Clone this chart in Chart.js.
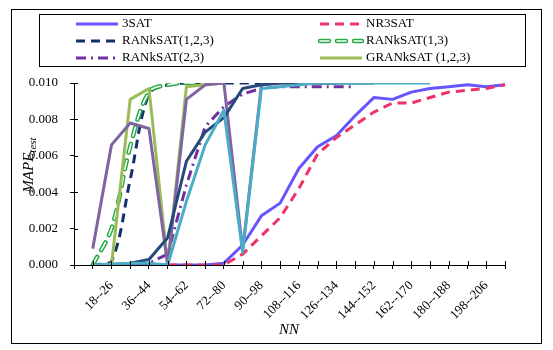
<!DOCTYPE html>
<html>
<head>
<meta charset="utf-8">
<script src="https://cdn.jsdelivr.net/npm/chart.js@4"></script>
<style>
  body { margin: 0; background: #fff; }
  canvas { display: block; }
</style>
</head>
<body>
<canvas id="myChart" width="553" height="350"></canvas>
<script>
// categories: first slot is empty, then 9--17 ... 207--215
var labels = [''];
for (var k = 1; k <= 23; k++) labels.push((9 * k) + '--' + (9 * k + 8));

var sat3     = [null, 0, 0, 0, 0, 0, 0, 0, 0.0001, 0.0011, 0.0027, 0.0034, 0.0053, 0.0065, 0.0071, 0.0082, 0.0092, 0.0091, 0.0095, 0.0097, 0.0098, 0.0099, 0.0098, 0.0099];
var nr3sat   = [null, 0, 0, 0, 0, 0, 0, 0, 0, 0.0006, 0.0016, 0.0026, 0.0042, 0.0061, 0.0070, 0.0077, 0.0084, 0.0089, 0.0089, 0.0092, 0.0095, 0.0096, 0.0097, 0.0099];
var ran123   = [null, 0, 0.0002, 0.0047, 0.0094, 0.0099, 0.0100, 0.0100, 0.0100, 0.0100, 0.0100];
var ran13    = [null, 0, 0.0020, 0.0065, 0.0095, 0.0099, 0.0100, 0.0100];
var ran23    = [null, 0, 0, 0, 0.0001, 0.0006, 0.0044, 0.0076, 0.0087, 0.0094, 0.0097, 0.0098, 0.0098, 0.0098, 0.0098, 0.0098];
var gran123  = [null, 0, 0, 0.0091, 0.0097, 0, 0.0098, 0.0099, 0.0100];
var extraA   = [null, 0.0009, 0.0066, 0.0078, 0.0075, 0, 0.0091, 0.0099, 0.0100, 0.0008, 0.0099, 0.0100, 0.0100, 0.0100, 0.0100];
var extraB   = [null, 0, 0, 0.0001, 0.0003, 0.0015, 0.0057, 0.0073, 0.0081, 0.0097, 0.0099, 0.0100, 0.0100, 0.0100, 0.0100, 0.0100, 0.0100];
var extraC   = [null, 0, 0.00005, 0.0001, 0.0001, 0, 0.0035, 0.0066, 0.0085, 0.0007, 0.0097, 0.0098, 0.0099, 0.0100, 0.0100, 0.0100, 0.0100, 0.0100, 0.0100, 0.0100];

var yTicks = [0, 0.002, 0.004, 0.006, 0.008, 0.010];

function line(label, data, color, dash, extra) {
  var d = {
    label: label, data: data, borderColor: color, backgroundColor: color,
    borderWidth: 3, borderDash: dash || [], pointRadius: 0, tension: 0,
    fill: false, borderJoinStyle: 'round', spanGaps: false
  };
  for (var key in extra) d[key] = extra[key];
  return d;
}

var sets = [
  line('3SAT', sat3, '#6655ff'),
  line('NR3SAT', nr3sat, '#ee3366', [9, 6]),
  line('RANkSAT(1,2,3)', ran123, '#14306a', [9, 6], {tension: 0.35}),
  line('RANkSAT(1,3)', ran13, '#22aa44', [9, 8], {borderWidth: 4.5, borderCapStyle: 'round', tension: 0.35}),
  line('_ran13inner', ran13, '#ffffff', [9, 8], {borderWidth: 1.6, borderCapStyle: 'round', tension: 0.35}),
  line('RANkSAT(2,3)', ran23, '#7030a0', [10, 5, 2, 5]),
  line('GRANkSAT (1,2,3)', gran123, '#9bbb59'),
  line('_a', extraA, '#8064a2'),
  line('_b', extraB, '#24497a'),
  line('_c', extraC, '#4bacc6')
];
sets.forEach(function (d, i) { d.order = sets.length - i; });

var legendRows = [
  ['3SAT', 'NR3SAT'],
  ['RANkSAT(1,2,3)', 'RANkSAT(1,3)'],
  ['RANkSAT(2,3)', 'GRANkSAT (1,2,3)']
];

function findSet(name) {
  return sets.filter(function (d) { return d.label === name; })[0];
}

function sample(ctx, d, x0, x1, y) {
  ctx.save();
  ctx.strokeStyle = d.borderColor;
  ctx.lineWidth = d.borderWidth;
  ctx.lineCap = d.borderCapStyle || 'butt';
  ctx.setLineDash(d.borderDash);
  ctx.beginPath(); ctx.moveTo(x0, y); ctx.lineTo(x1, y); ctx.stroke();
  ctx.restore();
}

var decor = {
  id: 'decor',
  afterDraw: function (chart) {
    var ctx = chart.ctx, a = chart.chartArea;
    ctx.save();
    // outer frame
    ctx.strokeStyle = '#000'; ctx.lineWidth = 1;
    ctx.strokeRect(11.5, 9.5, 530, 334);
    // inner half of the crossing ticks
    var xs = chart.scales.x, ys = chart.scales.y;
    ctx.beginPath();
    for (var i = 0; i < labels.length; i++) {
      var px = Math.round(xs.getPixelForValue(i)) + 0.5;
      ctx.moveTo(px, a.bottom); ctx.lineTo(px, a.bottom - 4);
    }
    yTicks.forEach(function (v) {
      var py = Math.round(ys.getPixelForValue(v)) + 0.5;
      ctx.moveTo(a.left, py); ctx.lineTo(a.left + 4, py);
    });
    ctx.stroke();

    // legend
    ctx.fillStyle = '#fff';
    ctx.fillRect(39, 14, 486, 52);
    ctx.strokeRect(39.5, 14.5, 486, 52);
    ctx.font = '13px "Liberation Serif"';
    ctx.fillStyle = '#000';
    ctx.textBaseline = 'middle';
    var cols = [[76, 118, 122], [320, 362, 366]];
    legendRows.forEach(function (row, r) {
      var y = 24 + r * 17;
      row.forEach(function (name, c) {
        var d = findSet(name);
        sample(ctx, d, cols[c][0], cols[c][1], y);
        if (name === 'RANkSAT(1,3)') sample(ctx, findSet('_ran13inner'), cols[c][0], cols[c][1], y);
        ctx.fillText(name, cols[c][2], y);
      });
    });

    // axis titles
    ctx.font = 'italic 15px "Liberation Serif"';
    ctx.textBaseline = 'alphabetic';
    ctx.textAlign = 'center';
    ctx.fillText('NN', 289, 334);
    ctx.save();
    ctx.translate(33, 165);
    ctx.rotate(-Math.PI / 2);
    ctx.textAlign = 'left';
    var w1 = ctx.measureText('MAPE').width;
    ctx.font = 'italic 11px "Liberation Serif"';
    var w2 = ctx.measureText('test').width;
    var start = -(w1 + w2) / 2;
    ctx.font = 'italic 15px "Liberation Serif"';
    ctx.fillText('MAPE', start, 0);
    ctx.font = 'italic 11px "Liberation Serif"';
    ctx.fillText('test', start + w1, 3);
    ctx.restore();
    ctx.restore();
  }
};

var ctx = document.getElementById('myChart').getContext('2d');
var chart = new Chart(ctx, {
  type: 'line',
  data: { labels: labels, datasets: sets },
  options: {
    responsive: false,
    animation: false,
    layout: { padding: { left: 0, right: 48, top: 83, bottom: 0 } },
    plugins: { legend: { display: false }, tooltip: { enabled: false } },
    scales: {
      x: {
        offset: false,
        afterFit: function (s) { s.height = 85; },
        grid: { drawOnChartArea: false, tickLength: 4, color: '#000', offset: false },
        border: { color: '#000' },
        ticks: {
          autoSkip: false, maxRotation: 45, minRotation: 45, padding: 9,
          color: '#000', font: { family: 'Liberation Serif', size: 13 },
          callback: function (v, i) { return (i % 2 === 0 && i >= 2 && i <= 22) ? labels[i] : ''; }
        }
      },
      y: {
        min: 0, max: 0.01,
        afterFit: function (s) { s.width = 74; },
        afterBuildTicks: function (s) { s.ticks = yTicks.map(function (v) { return {value: v}; }); },
        grid: { drawOnChartArea: false, tickLength: 4, color: '#000' },
        border: { color: '#000' },
        ticks: {
          padding: 12, color: '#000', font: { family: 'Liberation Serif', size: 13 },
          callback: function (v) { return v.toFixed(3); }
        }
      }
    }
  },
  plugins: [decor]
});
</script>
</body>
</html>
